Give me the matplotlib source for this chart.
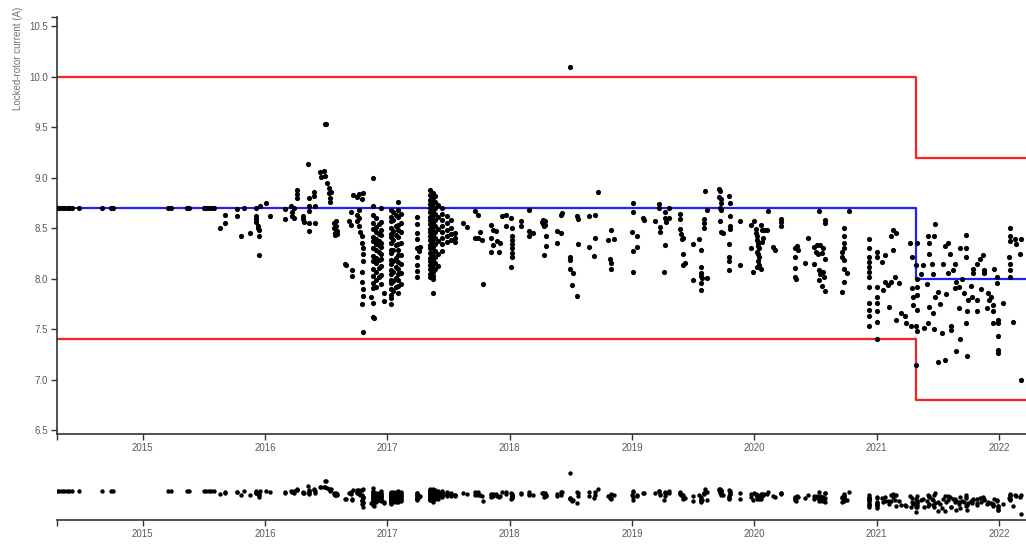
import matplotlib
matplotlib.use("Agg")
from matplotlib import pyplot as plt

plt.rcParams['font.family'] = ['Liberation Sans', 'DejaVu Sans']

# control limits (decimal year, value), step after each date
limit_dates = [2014.30, 2021.32, 2022.30]
upper_limit = [10.0, 9.2, 9.2]
center_line = [8.7, 8.0, 8.0]
lower_limit = [7.4, 6.8, 6.8]

year_ticks = [2015, 2016, 2017, 2018, 2019, 2020, 2021, 2022]
year_labels = ['2015', '2016', '2017', '2018', '2019', '2020', '2021', '2022']
y_ticks = [6.5, 7.0, 7.5, 8.0, 8.5, 9.0, 9.5, 10.0, 10.5]
y_labels = ['6.5', '7.0', '7.5', '8.0', '8.5', '9.0', '9.5', '10.0', '10.5']

# measurements (decimal year, current in A)
pts_2014_15 = [
    (2014.30, 8.70), (2014.32, 8.70), (2014.34, 8.70), (2014.36, 8.70), (2014.38, 8.70),
    (2014.40, 8.70), (2014.42, 8.70), (2014.48, 8.70), (2014.67, 8.70), (2014.74, 8.70),
    (2014.76, 8.70), (2015.21, 8.70), (2015.23, 8.70), (2015.36, 8.70), (2015.38, 8.70),
    (2015.50, 8.70), (2015.52, 8.70), (2015.54, 8.70), (2015.56, 8.70), (2015.58, 8.70),
    (2015.63, 8.50), (2015.67, 8.63), (2015.67, 8.55), (2015.77, 8.69), (2015.77, 8.62),
    (2015.80, 8.42), (2015.83, 8.70), (2015.88, 8.45), (2015.93, 8.70), (2015.93, 8.62),
    (2015.93, 8.59), (2015.93, 8.56), (2015.94, 8.52), (2015.94, 8.50), (2015.95, 8.48),
    (2015.95, 8.42), (2015.95, 8.24), (2015.96, 8.72), (2016.01, 8.75), (2016.04, 8.62),
]

pts_2016 = [
    (2016.16, 8.69), (2016.16, 8.59), (2016.21, 8.72), (2016.22, 8.66), (2016.22, 8.62),
    (2016.24, 8.60), (2016.24, 8.70), (2016.26, 8.88), (2016.26, 8.84), (2016.26, 8.80),
    (2016.31, 8.62), (2016.31, 8.59), (2016.32, 8.56), (2016.35, 9.14), (2016.36, 8.80),
    (2016.36, 8.72), (2016.36, 8.67), (2016.36, 8.55), (2016.36, 8.47), (2016.40, 8.86),
    (2016.40, 8.82), (2016.41, 8.72), (2016.41, 8.55), (2016.45, 9.06), (2016.46, 9.01),
    (2016.48, 9.07), (2016.49, 9.02), (2016.49, 9.53), (2016.50, 9.53), (2016.51, 8.95),
    (2016.52, 8.90), (2016.52, 8.85), (2016.53, 8.80), (2016.53, 8.76), (2016.54, 8.86),
    (2016.56, 8.55), (2016.56, 8.50), (2016.57, 8.45), (2016.57, 8.43), (2016.58, 8.57),
    (2016.58, 8.52), (2016.59, 8.47), (2016.59, 8.44), (2016.65, 8.15), (2016.66, 8.14),
    (2016.69, 8.57), (2016.70, 8.66), (2016.70, 8.53), (2016.71, 8.09), (2016.71, 8.03),
    (2016.72, 8.83), (2016.75, 8.81), (2016.77, 8.84), (2016.79, 8.79), (2016.80, 8.85),
    (2016.75, 8.63), (2016.75, 8.57), (2016.77, 8.68), (2016.77, 8.60), (2016.77, 8.52),
    (2016.78, 8.46), (2016.79, 8.42), (2016.79, 8.35), (2016.80, 8.30), (2016.80, 8.25),
    (2016.80, 8.18), (2016.79, 8.07), (2016.79, 7.97), (2016.80, 7.90), (2016.80, 7.83),
    (2016.79, 7.75), (2016.80, 7.47), (2016.88, 9.00), (2016.87, 7.82), (2016.88, 7.76),
    (2016.88, 7.62), (2016.89, 7.61), (2016.97, 7.86), (2016.97, 7.78),
]

# dense bursts, one date with many readings
cols_2017 = [
    (2016.88, [8.72, 8.63, 8.55, 8.49, 8.41, 8.37, 8.30, 8.23, 8.18, 8.10, 8.03, 7.96, 7.91]),
    (2016.91, [8.60, 8.51, 8.46, 8.39, 8.34, 8.29, 8.21, 8.16, 8.07, 7.99, 7.92]),
    (2016.93, [8.54, 8.44, 8.37, 8.33, 8.27, 8.19, 8.11, 8.02]),
    (2016.95, [8.70, 8.56, 8.48, 8.43, 8.35, 8.31, 8.25, 8.20, 8.13, 8.04, 7.95]),
    (2017.03, [8.68, 8.61, 8.57, 8.50, 8.44, 8.41, 8.35, 8.29, 8.26, 8.19, 8.15, 8.09,
               8.05, 7.99, 7.96, 7.90, 7.84, 7.81, 7.75]),
    (2017.05, [8.66, 8.58, 8.47, 8.38, 8.29, 8.18, 8.07, 7.98, 7.88]),
    (2017.07, [8.63, 8.52, 8.43, 8.33, 8.21, 8.12, 8.01, 7.92]),
    (2017.09, [8.76, 8.68, 8.61, 8.53, 8.48, 8.41, 8.34, 8.29, 8.24, 8.17, 8.10, 8.05,
               7.99, 7.93, 7.86]),
    (2017.11, [8.64, 8.55, 8.46, 8.35, 8.24, 8.15, 8.06, 7.95]),
    (2017.24, [8.61, 8.54, 8.45, 8.39, 8.30, 8.22, 8.14, 8.08, 8.02]),
    (2017.35, [8.88, 8.83, 8.78, 8.74, 8.70, 8.66, 8.61, 8.58, 8.54, 8.49, 8.46, 8.42,
               8.38, 8.33, 8.30, 8.26, 8.21, 8.18, 8.14, 8.10, 8.05, 8.02]),
    (2017.37, [8.85, 8.80, 8.76, 8.71, 8.67, 8.63, 8.59, 8.55, 8.51, 8.47, 8.43, 8.39,
               8.35, 8.31, 8.27, 8.23, 8.19, 8.15, 8.11, 8.07, 8.03, 8.00, 7.86]),
    (2017.39, [8.82, 8.76, 8.70, 8.64, 8.58, 8.52, 8.46, 8.40, 8.34, 8.28, 8.22, 8.16, 8.10]),
    (2017.41, [8.73, 8.61, 8.49, 8.37, 8.25, 8.13]),
    (2017.45, [8.70, 8.64, 8.58, 8.52, 8.46, 8.40, 8.34, 8.28]),
    (2017.49, [8.62, 8.55, 8.48, 8.42, 8.36]),
    (2017.52, [8.58, 8.50, 8.44, 8.38]),
    (2017.55, [8.45, 8.40, 8.36]),
]

pts_2017_18 = [
    (2017.26, 8.28), (2017.27, 8.31), (2017.62, 8.55), (2017.65, 8.51), (2017.72, 8.67),
    (2017.74, 8.63), (2017.72, 8.40), (2017.74, 8.40), (2017.76, 8.46), (2017.77, 8.38),
    (2017.78, 7.95), (2017.85, 8.53), (2017.86, 8.48), (2017.85, 8.40), (2017.86, 8.33),
    (2017.85, 8.27), (2017.89, 8.47), (2017.90, 8.37), (2017.91, 8.27), (2017.92, 8.35),
    (2017.94, 8.62), (2017.97, 8.63), (2017.97, 8.52), (2018.01, 8.60), (2018.02, 8.50),
    (2018.02, 8.42), (2018.02, 8.38), (2018.02, 8.34), (2018.02, 8.30), (2018.02, 8.26),
    (2018.02, 8.22), (2018.01, 8.12), (2018.09, 8.57), (2018.09, 8.52), (2018.16, 8.68),
    (2018.16, 8.47), (2018.16, 8.42), (2018.19, 8.45), (2018.26, 8.56), (2018.27, 8.54),
    (2018.28, 8.52), (2018.29, 8.57), (2018.27, 8.58), (2018.29, 8.53), (2018.30, 8.42),
    (2018.30, 8.32), (2018.28, 8.24), (2018.39, 8.47), (2018.42, 8.45), (2018.39, 8.35),
    (2018.42, 8.63), (2018.43, 8.65), (2018.49, 10.10), (2018.49, 8.22), (2018.49, 8.19),
    (2018.49, 8.10), (2018.52, 8.06), (2018.51, 7.94), (2018.55, 7.83), (2018.55, 8.62),
    (2018.56, 8.59), (2018.56, 8.34), (2018.65, 8.62), (2018.65, 8.31), (2018.70, 8.63),
    (2018.70, 8.40), (2018.69, 8.23), (2018.72, 8.86), (2018.80, 8.38), (2018.83, 8.48),
    (2018.85, 8.39), (2018.82, 8.20), (2018.83, 8.16), (2018.83, 8.10),
]

pts_2019_20 = [
    (2019.01, 8.75), (2019.01, 8.66), (2019.00, 8.46), (2019.04, 8.42), (2019.01, 8.28),
    (2019.04, 8.31), (2019.01, 8.07), (2019.09, 8.60), (2019.10, 8.58), (2019.19, 8.57),
    (2019.22, 8.74), (2019.22, 8.70), (2019.23, 8.51), (2019.23, 8.46), (2019.27, 8.66),
    (2019.27, 8.60), (2019.28, 8.56), (2019.30, 8.70), (2019.30, 8.60), (2019.27, 8.33),
    (2019.26, 8.07), (2019.39, 8.64), (2019.39, 8.59), (2019.39, 8.49), (2019.40, 8.44),
    (2019.41, 8.39), (2019.42, 8.25), (2019.42, 8.14), (2019.42, 8.40), (2019.43, 8.16),
    (2019.50, 8.34), (2019.50, 7.99), (2019.55, 8.39), (2019.56, 8.29), (2019.56, 8.12),
    (2019.56, 8.06), (2019.56, 8.03), (2019.56, 7.96), (2019.56, 7.89), (2019.57, 8.01),
    (2019.59, 8.59), (2019.59, 8.55), (2019.59, 8.50), (2019.60, 8.87), (2019.61, 8.68),
    (2019.61, 8.01), (2019.71, 8.89), (2019.72, 8.87), (2019.71, 8.81), (2019.73, 8.79),
    (2019.73, 8.75), (2019.72, 8.70), (2019.73, 8.68), (2019.72, 8.57), (2019.73, 8.46),
    (2019.74, 8.45), (2019.79, 8.82), (2019.80, 8.75), (2019.80, 8.62), (2019.80, 8.52),
    (2019.80, 8.49), (2019.79, 8.34), (2019.79, 8.22), (2019.79, 8.18), (2019.79, 8.09),
    (2019.88, 8.57), (2019.88, 8.14), (2019.97, 8.53), (2019.97, 8.30), (2020.00, 8.57),
    (2020.01, 8.49), (2020.01, 8.45), (2020.02, 8.42), (2020.02, 8.38), (2020.03, 8.35),
    (2020.03, 8.32), (2020.04, 8.30), (2020.02, 8.27), (2020.03, 8.25), (2020.04, 8.22),
    (2020.03, 8.18), (2020.04, 8.14), (2020.02, 8.12), (2019.99, 8.07), (2020.05, 8.10),
    (2020.05, 8.53), (2020.06, 8.48), (2020.07, 8.40), (2020.06, 8.36), (2020.08, 8.48),
    (2020.11, 8.67), (2020.10, 8.48), (2020.15, 8.31), (2020.17, 8.29), (2020.22, 8.59),
    (2020.22, 8.56), (2020.22, 8.52), (2020.33, 8.30), (2020.35, 8.32), (2020.36, 8.29),
    (2020.33, 8.22), (2020.33, 8.11), (2020.33, 8.02), (2020.34, 8.00), (2020.41, 8.16),
    (2020.44, 8.40), (2020.49, 8.31), (2020.50, 8.27), (2020.51, 8.33), (2020.52, 8.25),
    (2020.54, 8.33), (2020.56, 8.30), (2020.55, 8.26), (2020.49, 8.15), (2020.53, 8.09),
    (2020.54, 8.05), (2020.53, 7.99), (2020.55, 7.93), (2020.58, 8.20), (2020.56, 8.07),
    (2020.57, 8.02), (2020.58, 7.88), (2020.53, 8.67), (2020.58, 8.58), (2020.58, 8.55),
    (2020.73, 8.50), (2020.73, 8.42), (2020.73, 8.35), (2020.73, 8.30), (2020.72, 8.27),
    (2020.72, 8.22), (2020.73, 8.19), (2020.73, 8.10), (2020.76, 8.06), (2020.73, 7.97),
    (2020.72, 7.87), (2020.77, 8.67),
]

pts_2021_22 = [
    (2020.94, 8.39), (2020.94, 8.30), (2020.94, 8.22), (2020.94, 8.17), (2020.94, 8.12),
    (2020.94, 8.07), (2020.94, 8.02), (2020.94, 7.92), (2020.94, 7.76), (2020.94, 7.69),
    (2020.94, 7.63), (2020.94, 7.53), (2021.00, 8.27), (2021.00, 8.22), (2021.00, 7.92),
    (2021.00, 7.82), (2021.00, 7.76), (2021.00, 7.68), (2021.00, 7.57), (2021.00, 7.40),
    (2021.04, 8.17), (2021.07, 8.24), (2021.12, 8.42), (2021.13, 8.48), (2021.16, 8.45),
    (2021.13, 8.29), (2021.07, 7.97), (2021.09, 7.94), (2021.12, 7.97), (2021.15, 8.02),
    (2021.18, 7.96), (2021.05, 7.89), (2021.10, 7.72), (2021.16, 7.59), (2021.20, 7.66),
    (2021.23, 7.63), (2021.24, 7.56), (2021.28, 7.53), (2021.32, 7.53), (2021.33, 7.48),
    (2021.27, 8.35), (2021.29, 8.22), (2021.29, 7.91), (2021.30, 7.82), (2021.33, 7.84),
    (2021.30, 7.74), (2021.33, 7.69), (2021.32, 7.15), (2021.33, 8.35), (2021.32, 8.14),
    (2021.33, 8.00), (2021.33, 7.92), (2021.38, 8.14), (2021.42, 8.42), (2021.43, 8.35),
    (2021.43, 8.25), (2021.45, 8.15), (2021.46, 8.05), (2021.48, 8.54), (2021.47, 8.42),
    (2021.50, 7.87), (2021.48, 7.82), (2021.43, 7.72), (2021.46, 7.66), (2021.42, 7.56),
    (2021.39, 7.51), (2021.47, 7.50), (2021.53, 7.46), (2021.50, 7.18), (2021.56, 7.20),
    (2021.56, 8.32), (2021.58, 8.35), (2021.60, 8.25), (2021.64, 8.15), (2021.54, 8.15),
    (2021.58, 8.06), (2021.62, 8.09), (2021.65, 7.97), (2021.64, 7.91), (2021.67, 7.92),
    (2021.71, 7.86), (2021.67, 7.71), (2021.61, 7.53), (2021.61, 7.49), (2021.68, 7.40),
    (2021.65, 7.29), (2021.68, 8.30), (2021.73, 8.30), (2021.73, 8.43), (2021.73, 8.22),
    (2021.79, 8.10), (2021.79, 8.06), (2021.82, 8.15), (2021.75, 7.79), (2021.78, 7.82),
    (2021.82, 7.79), (2021.74, 7.68), (2021.73, 7.56), (2021.82, 7.68), (2021.74, 7.24),
    (2021.84, 8.20), (2021.87, 8.24), (2021.88, 8.06), (2021.88, 8.09), (2021.91, 7.86),
    (2021.93, 7.82), (2021.92, 7.79), (2021.95, 7.74), (2021.95, 7.68), (2021.99, 7.59),
    (2021.99, 7.56), (2021.95, 7.56), (2021.99, 7.43), (2021.99, 7.30), (2021.99, 7.27),
    (2021.90, 7.71), (2021.98, 7.96), (2021.98, 8.02), (2022.03, 7.76), (2022.11, 7.57),
    (2022.09, 8.50), (2022.09, 8.42), (2022.09, 8.37), (2022.08, 8.22), (2022.09, 8.15),
    (2022.09, 8.09), (2022.09, 8.02), (2022.13, 8.39), (2022.14, 8.34), (2022.17, 8.25),
    (2022.18, 8.39), (2022.18, 7.00), (2021.36, 8.05), (2021.41, 7.95), (2021.52, 7.75),
    (2021.57, 7.85), (2021.70, 8.00), (2021.77, 7.93), (2021.85, 7.90), (2021.96, 8.10),
]

t = []
v = []
for group in [pts_2014_15, pts_2016, pts_2017_18, pts_2019_20, pts_2021_22]:
    for d, val in group:
        t.append(d)
        v.append(val)
for d, vals in cols_2017:
    for val in vals:
        t.append(d)
        v.append(val)

axis_col = '#333333'
text_col = '#5a5a5a'

fig = plt.figure(figsize=(10.26, 5.44), dpi=100)
ax = fig.add_axes([57 / 1026, 110 / 544, 969 / 1026, 417 / 544])
ax2 = fig.add_axes([57 / 1026, 24 / 544, 969 / 1026, 52 / 544])

ax.step(limit_dates, upper_limit, where='post', color='#ff2020', lw=1.6, zorder=2)
ax.step(limit_dates, lower_limit, where='post', color='#ff2020', lw=1.6, zorder=2)
ax.step(limit_dates, center_line, where='post', color='#2020ff', lw=1.6, zorder=2)
ax.scatter(t, v, s=14, color='black', linewidths=0, zorder=3)

ax2.scatter(t, v, s=10, color='black', linewidths=0)

for a in (ax, ax2):
    a.set_xlim(2014.30, 2022.22)
    a.set_xticks(year_ticks)
    a.set_xticklabels(year_labels)
    a.set_xticks([2014.30], minor=True)
    a.spines['top'].set_visible(False)
    a.spines['right'].set_visible(False)
    a.spines['bottom'].set_color(axis_col)
    a.spines['bottom'].set_linewidth(1.2)
    a.tick_params(axis='x', which='both', length=4.3, width=1, color=axis_col,
                  labelsize=7, labelcolor=text_col, pad=2)

ax.set_ylim(6.465, 10.59)
ax.set_yticks(y_ticks)
ax.set_yticklabels(y_labels)
ax.set_yticks([10.59], minor=True)
ax.spines['left'].set_color(axis_col)
ax.spines['left'].set_linewidth(1.2)
ax.tick_params(axis='y', which='both', length=4.3, width=1, color=axis_col,
               labelsize=7, labelcolor=text_col, pad=2)

ax2.set_ylim(6.5, 10.5)
ax2.set_yticks([])
ax2.spines['left'].set_visible(False)

fig.text(18 / 1026, 1 - 7 / 544, 'Locked-rotor current (A)', rotation=90,
         ha='center', va='top', fontsize=7, color='#7a6e62')

fig.savefig('out.png', dpi=100)
